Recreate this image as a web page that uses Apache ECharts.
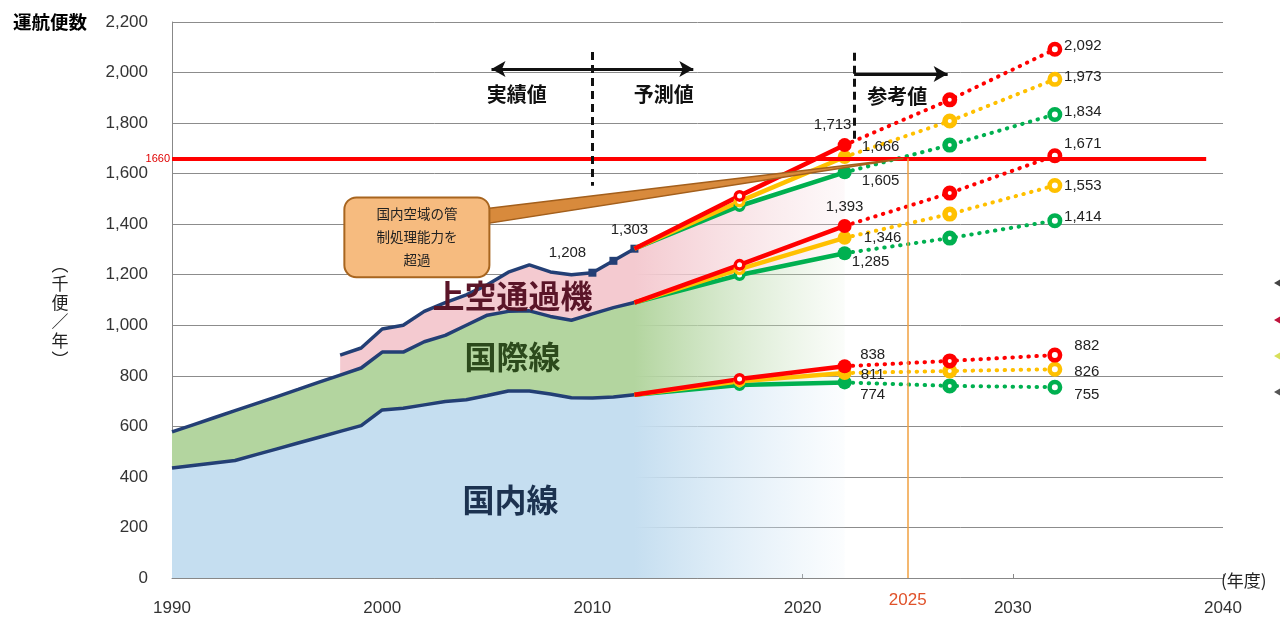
<!DOCTYPE html>
<html><head><meta charset="utf-8">
<script src="https://cdn.jsdelivr.net/npm/echarts@6/dist/echarts.min.js"></script>
<style>html,body{margin:0;padding:0;background:#fff}#c{width:1280px;height:617px}</style>
</head><body><div id="c"></div>
<script>
// ---------- data ----------
const histYears = [1990,1991,1992,1993,1994,1995,1996,1997,1998,1999,2000,2001,2002,2003,2004,2005,2006,2007,2008,2009,2010,2011,2012];
const histDomestic = [435,445,455,465,488,511,534,557,580,603,665,672,685,698,705,722,740,740,728,713,712,716,725];
const histDomIntl  = [578,606,634,662,690,718,746,775,803,831,894,894,935,960,1000,1040,1055,1057,1035,1020,1045,1070,1090];
const totalYears = [1998,1999,2000,2001,2002,2003,2004,2005,2006,2007,2008,2009,2010,2011,2012];
const histTotal  = [882,910,985,1000,1055,1090,1120,1160,1210,1239,1211,1200,1208,1255,1303];
const totalLabelYears = [2010,2012];

const fcYears = [2012,2017,2022,2027,2032];
const totalHigh   = [1303,1512,1713,1892,2092];
const totalMid    = [1303,1490,1666,1808,1973];
const totalLow    = [1303,1472,1605,1713,1834];
const domIntlHigh = [1090,1239,1393,1523,1671];
const domIntlMid  = [1090,1222,1346,1440,1553];
const domIntlLow  = [1090,1199,1285,1345,1414];
const domHigh     = [725,787,838,859,882];
const domMid      = [725,778,811,819,826];
const domLow      = [725,764,774,760,755];

const capacityLimit = 1660;
const markYear = 2025;
const xMin = 1990, xMax = 2040, xStep = 10;
const yMin = 0, yMax = 2200, yStep = 200;

// ---------- styles ----------
const JP = '"Noto Sans CJK JP", sans-serif';
const NUM = '"Liberation Sans", Arial, sans-serif';
const NAVY = '#233f75';
const scenColor = {high:'#ff0000', mid:'#ffc000', low:'#00b050'};
const labelOff = {
  total:   {high:{a:[-12,-20], b:[28,-3]}, mid:{a:[36,-10], b:[28,-3]}, low:{a:[36,8], b:[28,-3]}},
  domIntl: {high:{a:[0,-19],  b:[28,-12]}, mid:{a:[38,0],   b:[28,0]},  low:{a:[26,9], b:[28,-4]}},
  dom:     {high:{a:[28,-11], b:[32,-9]},  mid:{a:[28,2],   b:[32,3]},  low:{a:[28,12], b:[32,8]}}
};
const fmt = v => Number(v).toLocaleString('en-US');

// ---------- derived area bands ----------
const fadeStart = 2012;
const extYears = [fcYears[1], fcYears[2]];
const areaYears = histYears.concat(extYears);
const domUpper = histDomestic.concat([domLow[1], domLow[2]]);
const domIntlUpper = histDomIntl.concat([domIntlLow[1], domIntlLow[2]]);
const pinkYears = totalYears.concat(extYears);
const pinkLower = totalYears.map(y => histDomIntl[histYears.indexOf(y)]).concat([domIntlLow[1], domIntlLow[2]]);
const pinkUpper = histTotal.concat([totalLow[1], totalLow[2]]);
const zeros = areaYears.map(() => 0);

function band(xs, lower, upper, color, fade, z) {
  return {
    type:'custom', coordinateSystem:'cartesian2d', silent:true, z:z,
    data:[[xs[0], upper[0]]],
    renderItem:(params, api) => {
      const pts = [];
      for (let i=0;i<xs.length;i++) pts.push(api.coord([xs[i], upper[i]]));
      for (let i=xs.length-1;i>=0;i--) pts.push(api.coord([xs[i], lower[i]]));
      const x0 = api.coord([xs[0],0])[0];
      const x1 = api.coord([fadeStart,0])[0];
      const x2 = api.coord([xs[xs.length-1],0])[0];
      const t = (x1-x0)/(x2-x0);
      return {type:'polygon', shape:{points:pts},
        style:{fill:new echarts.graphic.LinearGradient(0,0,1,0,[{offset:0,color:color},{offset:t,color:color},{offset:1,color:fade}])}};
    }
  };
}

const series = [];
series.push(band(areaYears, zeros, domUpper, '#c5def0', 'rgba(210,230,245,0.08)', 1));
series.push(band(areaYears, domUpper, domIntlUpper, '#b3d59f', 'rgba(200,225,190,0.08)', 1));
series.push(band(pinkYears, pinkLower, pinkUpper, '#f4cad0', 'rgba(245,215,220,0.15)', 1));

// historical lines
function histLine(xs, ys, extra) {
  return Object.assign({
    type:'line', z:3, silent:true, symbol:'none', showSymbol:true,
    lineStyle:{color:NAVY, width:3.5}, itemStyle:{color:NAVY},
    data: xs.map((x,i)=>[x, ys[i]])
  }, extra||{});
}
series.push(histLine(histYears, histDomestic));
series.push(histLine(histYears, histDomIntl));
const histLabelOff = {2010:[-25,-20], 2012:[-5,-19]};
series.push(histLine(totalYears, histTotal, {
  data: totalYears.map((x,i) => {
    const item = {value:[x, histTotal[i]]};
    if (x >= 2010) { item.symbol = 'rect'; item.symbolSize = 8; }
    if (totalLabelYears.includes(x)) {
      item.label = {show:true, position:'inside', offset:histLabelOff[x], formatter:p=>fmt(p.value[1]),
        color:'#222', fontSize:15, fontFamily:NUM};
    }
    return item;
  })
}));

// forecast lines
const groups = [
  {key:'dom', high:domHigh, mid:domMid, low:domLow},
  {key:'domIntl', high:domIntlHigh, mid:domIntlMid, low:domIntlLow},
  {key:'total', high:totalHigh, mid:totalMid, low:totalLow}
];
function ring(c, size, bw) {
  return {symbol:'circle', symbolSize:size, itemStyle:{color:'#fff', borderColor:c, borderWidth:bw}};
}
['low','mid','high'].forEach(sc => {
  groups.forEach(g => {
    const vals = g[sc], c = scenColor[sc], off = labelOff[g.key][sc];
    const lab = (o) => ({show:true, position:'inside', offset:o, formatter:p=>fmt(p.value[1]),
      color:'#222', fontSize:15, fontFamily:NUM});
    const solid = [0,1,2].map(i => {
      let it = {value:[fcYears[i], vals[i]]};
      if (i===0) it.symbol = 'none';
      if (i===1) Object.assign(it, ring(c, 8.5, 3.5));
      if (i===2) { it.symbol='circle'; it.symbolSize=14; it.itemStyle={color:c}; it.label = lab(off.a); }
      return it;
    });
    const dotted = [2,3,4].map(i => {
      let it = {value:[fcYears[i], vals[i]]};
      if (i===2) it.symbol = 'none';
      if (i===3) Object.assign(it, ring(c, 9.5, 5.5));
      if (i===4) { Object.assign(it, ring(c, 10.5, 4.5)); it.label = lab(off.b); }
      return it;
    });
    series.push({type:'line', z:4, silent:true, showSymbol:true, symbol:'none',
      lineStyle:{color:c, width:4.5}, itemStyle:{color:c}, data:solid});
    series.push({type:'line', z:4, silent:true, showSymbol:true, symbol:'none',
      lineStyle:{color:c, width:4, type:[0.5,7.5], cap:'round'}, itemStyle:{color:c}, data:dotted});
  });
});

// reference lines (markLines)
series.push({
  type:'line', data:[], z:6, silent:true,
  markLine:{silent:true, symbol:'none', animation:false, label:{show:false},
    data:[
      [{coord:[xMin, capacityLimit], label:{show:true, position:'start', formatter:String(capacityLimit), color:'#e00000', fontSize:11, fontFamily:NUM, distance:2}, lineStyle:{color:'#ff0000', width:4, type:'solid'}},
       {coord:[2039.2, capacityLimit]}],
      [{coord:[markYear, capacityLimit], lineStyle:{color:'#f0a040', width:1.5, type:'solid'}}, {coord:[markYear, 0]}],
      [{coord:[2010, 2081], lineStyle:{color:'#111', width:3, type:[8,5]}}, {coord:[2010, 1552]}],
      [{coord:[2022.45, 2078], lineStyle:{color:'#111', width:3, type:[8,5]}}, {coord:[2022.45, 1735]}]
    ]}
});
series.push({
  type:'line', data:[], z:6, silent:true,
  markLine:{silent:true, animation:false, label:{show:false}, symbolSize:[12,14],
    data:[
      [{coord:[2005.2, 2014], symbol:'arrow', lineStyle:{color:'#111', width:3, type:'solid'}}, {coord:[2014.8, 2014], symbol:'arrow'}],
      [{coord:[2022.45, 1994], symbol:'none', lineStyle:{color:'#111', width:3, type:'solid'}}, {coord:[2026.9, 1994], symbol:'arrow'}]
    ]}
});

const chart = echarts.init(document.getElementById('c'));
chart.setOption({
  animation:false,
  backgroundColor:'#fff',
  grid:{left:172, right:57, top:22, bottom:39, containLabel:false},
  xAxis:{type:'value', min:xMin, max:xMax, interval:xStep,
    axisLine:{show:true, lineStyle:{color:'#888', width:1}},
    axisTick:{show:true, inside:true, length:4, lineStyle:{color:'#888'}},
    axisLabel:{fontSize:17, color:'#333', margin:22, fontFamily:NUM, formatter:v=>String(v)},
    splitLine:{show:false}},
  yAxis:{type:'value', min:yMin, max:yMax, interval:yStep,
    axisLine:{show:true, lineStyle:{color:'#888', width:1}},
    axisTick:{show:false},
    axisLabel:{fontSize:17, color:'#333', margin:24, fontFamily:NUM, formatter:v=>fmt(v)},
    splitLine:{show:true, lineStyle:{color:'#8c8c8c', width:1}}},
  series:series
});

// ---------- annotations ----------
const P = (x,y) => chart.convertToPixel({gridIndex:0}, [x,y]);
const g = [];
function txt(x, y, s, st, z) {
  g.push({type:'text', x:x, y:y, z:z||100, silent:true,
    style:Object.assign({text:s, align:'center', verticalAlign:'middle', fill:'#111'}, st)});
}
// axis titles
txt(87, 22, '運航便数', {align:'right', fontSize:18.5, fontWeight:'bold', fontFamily:JP, fill:'#000'});
txt(60, 312, '︵\n千\n便\n／\n年\n︶', {fontSize:17, lineHeight:19, fontFamily:JP, fill:'#222'});
txt(1221, 581, '(年度)', {align:'left', fontSize:17, fontFamily:JP, fill:'#222'});
const p25 = P(markYear, 0);
txt(p25[0], p25[1]+22, String(markYear), {fontSize:17, fontFamily:NUM, fill:'#e0522a'});

// period labels
let p = P(2006.4, 1912); txt(p[0], p[1], '実績値', {fontSize:20, fontWeight:'bold', fontFamily:JP});
p = P(2013.4, 1912); txt(p[0], p[1], '予測値', {fontSize:20, fontWeight:'bold', fontFamily:JP});
p = P(2024.5, 1905); txt(p[0], p[1], '参考値', {fontSize:20, fontWeight:'bold', fontFamily:JP});

// area labels
p = P(2006.2, 1116); txt(p[0], p[1], '上空通過機', {fontSize:32, fontWeight:'bold', fontFamily:JP, fill:'#5a1528'}, 8);
p = P(2006.2, 877); txt(p[0], p[1], '国際線', {fontSize:32, fontWeight:'bold', fontFamily:JP, fill:'#2c4a1c'}, 8);
p = P(2006.1, 309); txt(p[0], p[1], '国内線', {fontSize:32, fontWeight:'bold', fontFamily:JP, fill:'#1c3250'}, 8);

// callout
const bTL = P(1998.2, 1506), bBR = P(2005.1, 1190);
const tip = P(2024.8, capacityLimit);
const tA = P(2005.0, 1462), tB = P(2005.0, 1403);
g.push({type:'polygon', z:50, silent:true, shape:{points:[tA, tip, tB]},
  style:{fill:'#d88a3c', stroke:'#a35f1c', lineWidth:1.5}});
g.push({type:'rect', z:51, silent:true,
  shape:{x:bTL[0], y:bTL[1], width:bBR[0]-bTL[0], height:bBR[1]-bTL[1], r:12},
  style:{fill:'#f6bb7f', stroke:'#a8651f', lineWidth:2}});
txt((bTL[0]+bBR[0])/2, (bTL[1]+bBR[1])/2, '国内空域の管\n制処理能力を\n超過', {fontSize:13.5, lineHeight:23, fontFamily:JP, fill:'#222'}, 52);

// clipped legend fragments at right edge
const frag = [[283,'#444'],[320,'#c0143c'],[356,'#d8df5a'],[392,'#555']];
frag.forEach(([y,c]) => g.push({type:'polygon', z:100, silent:true,
  shape:{points:[[1274,y],[1281,y-4],[1281,y+4]]}, style:{fill:c}}));

chart.setOption({graphic:g});
</script></body></html>
